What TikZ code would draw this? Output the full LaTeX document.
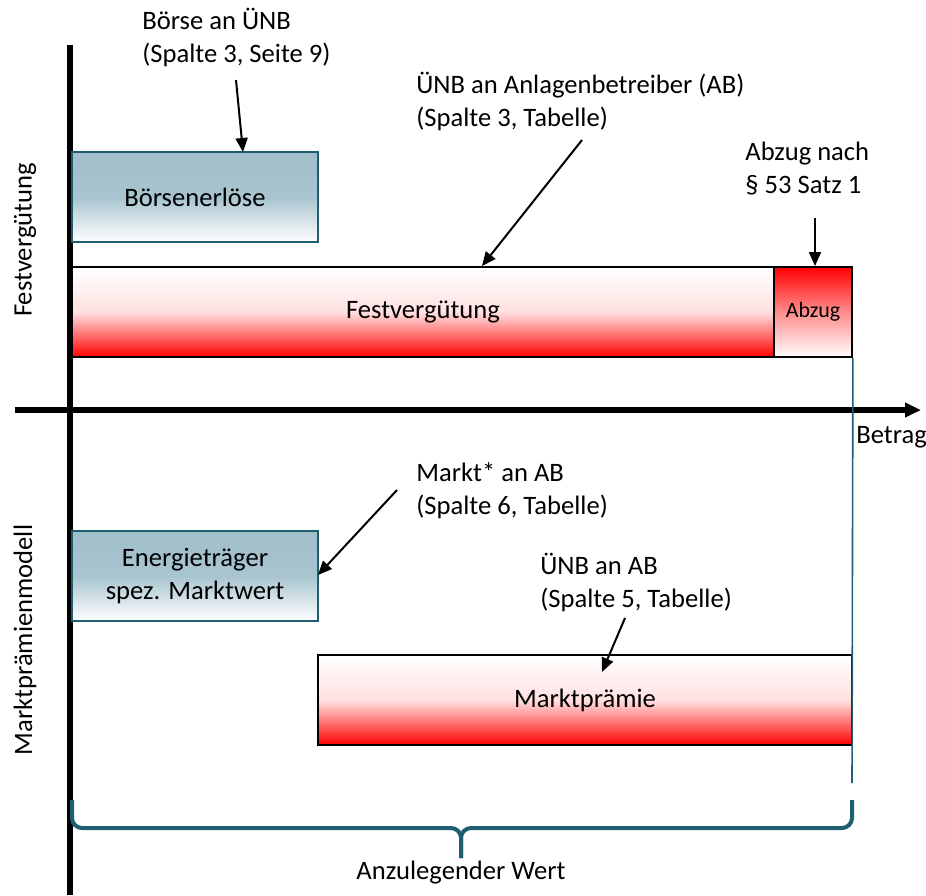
\documentclass[tikz,border=0pt]{standalone}
\usepackage{fontspec}
\setmainfont{Carlito}
\usetikzlibrary{positioning}
\usetikzlibrary{shadings,arrows.meta}
\definecolor{myTeal}{RGB}{31,93,112}
\definecolor{myBlue}{RGB}{160,191,203}
\definecolor{myRed}{RGB}{255,0,0}

\begin{document}
\begin{tikzpicture}[x=0.5pt,y=-0.5pt,font=\fontsize{13.3}{16.5}\selectfont,
  axis line/.style={line width=2.6pt,-{Triangle[length=8pt,width=7pt]}},
  blue box/.style={rectangle,draw=myTeal,line width=0.8pt,top color=myBlue,bottom color=white,
  middle color=myBlue!92,minimum width=123pt,minimum height=45pt,align=center,inner sep=0pt},
  red up box/.style={rectangle,draw=black,line width=0.9pt,top color=white,bottom color=myRed,
  middle color=myRed!12,minimum height=45pt,inner sep=0pt},
  red down box/.style={rectangle,draw=black,line width=0.9pt,top color=myRed,bottom color=white,
  middle color=myRed!45,minimum height=45pt,inner sep=0pt,font=\fontsize{11}{13}\selectfont},
  note/.style={align=left,inner sep=0pt,anchor=west},
  side label/.style={rotate=90,inner sep=0pt},
  teal line/.style={draw=myTeal,line width=0.8pt},
  brace line/.style={draw=myTeal,line width=2pt,rounded corners=5pt}]

\useasboundingbox (0,0) rectangle (926,895);

% The axes
\draw[line width=2.6pt] (70,45) -- (70,895);
\coordinate (origin) at (15,410);
\coordinate (end) at (921,410);
\draw[axis line] (origin) -- (end);
\node[note] (Betrag) at (856,437) {Betrag};

% The side labels
\node[side label] (FestLabel) at (25,240) {Festvergütung};
\node[side label] (MarktLabel) at (25,640) {Marktprämienmodell};

% The boxes
\node[blue box] (Boerse) at (195,197) {Börsenerlöse};
\node[red up box,minimum width=351pt] (Fest) at (423,312) {Festvergütung};
\node[red down box,minimum width=39pt] (Abzug) at (813,312) {Abzug};
\node[blue box] (Energie) at (195,576) {Energieträger\\spez. Marktwert};
\node[red up box,minimum width=267pt] (Praemie) at (585,700) {Marktprämie};

% The explanations
\node[note] (BoerseNote) at (142,37) {Börse an ÜNB\\(Spalte 3, Seite 9)};
\node[note] (FestNote) at (416,101) {ÜNB an Anlagenbetreiber (AB)\\(Spalte 3, Tabelle)};
\node[note] (AbzugNote) at (745,169) {Abzug nach\\§ 53 Satz 1};
\node[note] (MarktNote) at (416,491) {Markt* an AB\\(Spalte 6, Tabelle)};
\node[note] (PraemieNote) at (540,582) {ÜNB an AB\\(Spalte 5, Tabelle)};
\node (Wert) at (461,873) {Anzulegender Wert};

% The arrows
\coordinate (s1) at (236,80);   \coordinate (t1) at (243,152);
\coordinate (s2) at (582,140);  \coordinate (t2) at (482,266);
\coordinate (s3) at (815,218);  \coordinate (t3) at (815,266);
\coordinate (s4) at (397,490);  \coordinate (t4) at (318,575);
\coordinate (s5) at (625,618);  \coordinate (t5) at (602,672);
\path[-{Triangle[length=7pt,width=6pt]},line width=1pt]
 (s1) edge (t1)
 (s2) edge (t2)
 (s3) edge (t3)
 (s4) edge (t4)
 (s5) edge (t5);

% The brace
\coordinate (bl) at (72,800);
\coordinate (br) at (852,800);
\coordinate (btip) at (461,858);
\coordinate (vend) at (852,783);
\draw[teal line] (Abzug.south east) -- (vend);
\draw[brace line] (bl) |- (461,828) -- (btip);
\draw[brace line] (br) |- (461,828) -- (btip);

\end{tikzpicture}
\end{document}
